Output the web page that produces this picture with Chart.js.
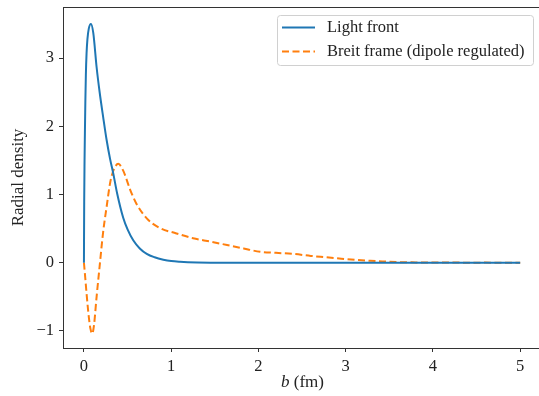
<!DOCTYPE html>
<html>
<head>
<meta charset="utf-8">
<script src="https://cdn.jsdelivr.net/npm/chart.js@4"></script>
<style>
  html, body { margin: 0; padding: 0; background: #fff; overflow: hidden; width: 539px; height: 396px; }
  #wrap { width: 546px; height: 396px; }
</style>
</head>
<body>
<div id="wrap"><canvas id="chart" width="546" height="396"></canvas></div>
<script>
// light front radial density
const bLight = [0, 0.003, 0.007, 0.011, 0.016, 0.022, 0.03, 0.04, 0.055, 0.08, 0.107, 0.145, 0.18, 0.22, 0.26, 0.3, 0.336, 0.38, 0.45, 0.5, 0.565, 0.64, 0.72, 0.81, 0.91, 1.0, 1.1, 1.3, 1.6, 2, 3, 4, 5];
const lightFront = [0, 0.9, 1.5, 1.9, 2.35, 2.75, 3.07, 3.28, 3.43, 3.5, 3.37, 2.87, 2.5, 2.14, 1.8, 1.52, 1.31, 1.02, 0.66, 0.49, 0.33, 0.21, 0.13, 0.08, 0.045, 0.025, 0.015, 0.005, 0, 0, 0, 0, 0];

// breit frame (dipole regulated)
const bBreit = [0, 0.015, 0.03, 0.045, 0.06, 0.075, 0.095, 0.115, 0.145, 0.18, 0.22, 0.26, 0.3, 0.34, 0.394, 0.45, 0.53, 0.6, 0.72, 0.87, 1.06, 1.25, 1.45, 1.64, 1.83, 2.02, 2.2, 2.4, 2.6, 2.78, 2.95, 3.13, 3.35, 3.58, 3.8, 4.0, 4.2, 4.4, 4.6, 4.8, 5.0];
const breitFrame = [0, -0.22, -0.45, -0.66, -0.84, -0.97, -1.04, -0.92, -0.5, -0.05, 0.45, 0.82, 1.17, 1.36, 1.45, 1.35, 1.07, 0.87, 0.65, 0.51, 0.43, 0.36, 0.31, 0.26, 0.21, 0.16, 0.145, 0.13, 0.1, 0.08, 0.06, 0.04, 0.025, 0.01, 0.005, 0.003, 0.004, 0, 0.002, 0, 0];

const xTicks = [0, 1, 2, 3, 4, 5];
const yTicks = [-1, 0, 1, 2, 3];

const seriesNames = ["Light front", "Breit frame (dipole regulated)"];
const blue = "#1f77b4";
const orange = "#ff7f0e";
const serif = "'Liberation Serif', 'DejaVu Serif', serif";

const toPoints = (xs, ys) => xs.map((x, i) => ({ x: x, y: ys[i] }));

const frameAndLabels = {
  id: "frameAndLabels",
  afterDraw(chart) {
    const { ctx, chartArea: a } = chart;
    ctx.save();
    ctx.strokeStyle = "#333";
    ctx.lineWidth = 1;
    ctx.strokeRect(a.left + 0.5, a.top + 0.5, a.right - a.left, a.bottom - a.top);

    // x axis title with italic b
    ctx.fillStyle = "#222";
    ctx.textBaseline = "middle";
    const cx = (a.left + a.right) / 2;
    const y = 383;
    ctx.font = "italic 17px " + serif;
    const wb = ctx.measureText("b").width;
    ctx.font = "17px " + serif;
    const rest = " (fm)";
    const wr = ctx.measureText(rest).width;
    const x0 = cx - (wb + wr) / 2;
    ctx.font = "italic 17px " + serif;
    ctx.fillText("b", x0, y);
    ctx.font = "17px " + serif;
    ctx.fillText(rest, x0 + wb, y);

    // legend box
    const lx = 277, ly = 15, lw = 256, lh = 50;
    ctx.fillStyle = "rgba(255,255,255,0.85)";
    ctx.strokeStyle = "#d0d0d0";
    ctx.beginPath();
    ctx.roundRect(lx + 0.5, ly + 0.5, lw, lh, 3);
    ctx.fill();
    ctx.stroke();

    const rows = [
      { name: seriesNames[0], color: blue, dash: [], y: 27.5 },
      { name: seriesNames[1], color: orange, dash: [7, 3.5], y: 51.5 }
    ];
    rows.forEach(r => {
      ctx.strokeStyle = r.color;
      ctx.lineWidth = 2;
      ctx.setLineDash(r.dash);
      ctx.beginPath();
      ctx.moveTo(282, r.y);
      ctx.lineTo(315, r.y);
      ctx.stroke();
      ctx.setLineDash([]);
      ctx.fillStyle = "#222";
      ctx.font = "16.5px " + serif;
      ctx.textBaseline = "middle";
      ctx.fillText(r.name, 327, r.y);
    });
    ctx.restore();
  }
};

new Chart(document.getElementById("chart"), {
  type: "line",
  data: {
    datasets: [
      {
        label: seriesNames[0],
        data: toPoints(bLight, lightFront),
        borderColor: blue,
        borderWidth: 2,
        pointRadius: 0,
        fill: false,
        cubicInterpolationMode: "monotone"
      },
      {
        label: seriesNames[1],
        data: toPoints(bBreit, breitFrame),
        borderColor: orange,
        borderWidth: 2,
        borderDash: [7, 3.5],
        pointRadius: 0,
        fill: false,
        cubicInterpolationMode: "monotone"
      }
    ]
  },
  options: {
    responsive: false,
    animation: false,
    layout: { padding: { top: 7, right: 4, left: 0, bottom: 0 } },
    plugins: {
      legend: { display: false },
      tooltip: { enabled: false }
    },
    scales: {
      x: {
        type: "linear",
        min: -0.24,
        max: 5.25,
        afterBuildTicks: s => { s.ticks = xTicks.map(v => ({ value: v })); },
        afterFit: s => { s.height = 48; s.paddingLeft = 0; s.paddingRight = 0; },
        grid: { drawOnChartArea: false, drawTicks: true, tickLength: 4, color: "#333" },
        border: { color: "#333", width: 1 },
        ticks: {
          color: "#222",
          padding: 5,
          maxRotation: 0,
          font: { family: serif, size: 16.5 },
          callback: v => String(v)
        }
      },
      y: {
        min: -1.25,
        max: 3.75,
        afterBuildTicks: s => { s.ticks = yTicks.map(v => ({ value: v })); },
        afterFit: s => { s.width = 63; s.paddingTop = 0; s.paddingBottom = 0; },
        grid: { drawOnChartArea: false, drawTicks: true, tickLength: 4, color: "#333" },
        border: { color: "#333", width: 1 },
        ticks: {
          color: "#222",
          padding: 5,
          font: { family: serif, size: 16.5 },
          callback: v => (v < 0 ? "\u2212" + Math.abs(v) : String(v))
        },
        title: {
          display: true,
          text: "Radial density",
          color: "#222",
          font: { family: serif, size: 17 },
          padding: { top: 8, bottom: 0 }
        }
      }
    }
  },
  plugins: [frameAndLabels]
});
</script>
</body>
</html>
